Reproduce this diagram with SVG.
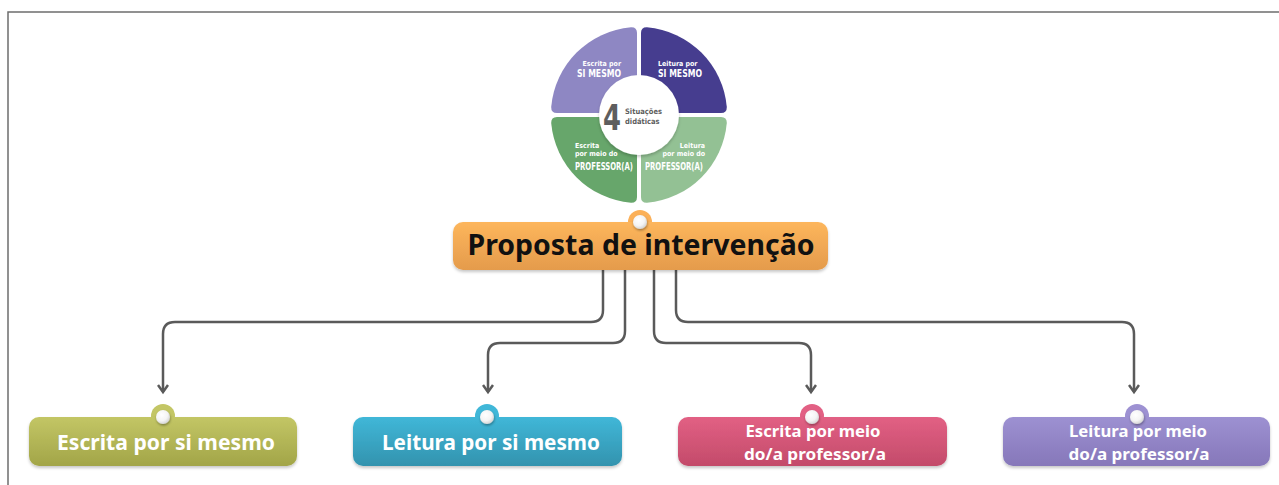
<svg xmlns="http://www.w3.org/2000/svg" width="1279" height="485" viewBox="0 0 1279 485">
<style>
.frame{fill:none;stroke:#6e6e6e;stroke-width:1.5}
.conn{fill:none;stroke:#5a5a5a;stroke-width:2.5;stroke-linejoin:round}
.lbl{font-family:"Noto Sans","Open Sans",sans-serif;font-weight:700;fill:#ffffff;text-anchor:middle}
.main{font-family:"Noto Sans","Open Sans",sans-serif;font-weight:700;fill:#111111;text-anchor:middle;font-size:28px}
.pw{font-family:"DejaVu Sans Condensed","DejaVu Sans",sans-serif;font-weight:700;fill:#ffffff}
.pg{font-family:"DejaVu Sans Condensed","DejaVu Sans",sans-serif;font-weight:700;fill:#5e5e5e}
.ball{fill:url(#ballG)}
</style>
<defs>
<filter id="sh" x="-10%" y="-20%" width="120%" height="150%">
<feDropShadow dx="0" dy="2" stdDeviation="1.5" flood-color="#000" flood-opacity="0.22"/>
</filter>
<filter id="bs" x="-50%" y="-50%" width="200%" height="200%">
<feDropShadow dx="0.5" dy="1.5" stdDeviation="1" flood-color="#000" flood-opacity="0.35"/>
</filter>
<radialGradient id="ballG" cx="0.4" cy="0.35" r="0.7">
<stop offset="0" stop-color="#ffffff"/>
<stop offset="0.6" stop-color="#f4f4f4"/>
<stop offset="1" stop-color="#cfcfcf"/>
</radialGradient>
<linearGradient id="gOr" x1="0" y1="0" x2="0" y2="1"><stop offset="0" stop-color="#fdb65c"/><stop offset="1" stop-color="#e49b4c"/></linearGradient>
<linearGradient id="gOl" x1="0" y1="0" x2="0" y2="1"><stop offset="0" stop-color="#c3c665"/><stop offset="1" stop-color="#a2a548"/></linearGradient>
<linearGradient id="gTe" x1="0" y1="0" x2="0" y2="1"><stop offset="0" stop-color="#40b7d8"/><stop offset="1" stop-color="#3393ae"/></linearGradient>
<linearGradient id="gPk" x1="0" y1="0" x2="0" y2="1"><stop offset="0" stop-color="#e26084"/><stop offset="1" stop-color="#c34b6a"/></linearGradient>
<linearGradient id="gPu" x1="0" y1="0" x2="0" y2="1"><stop offset="0" stop-color="#9d91d2"/><stop offset="1" stop-color="#8677b9"/></linearGradient>
<marker id="arr" markerWidth="12" markerHeight="12" refX="9" refY="6" orient="auto" markerUnits="userSpaceOnUse" viewBox="0 0 12 12">
<path d="M2,1 L9,6 L2,11" fill="none" stroke="#5a5a5a" stroke-width="2.5" stroke-linejoin="miter"/>
</marker>
<path id="quad" d="M -2,-2 L -82,-2 Q -88,-2 -87.8,-8 A 88 88 0 0 1 -8,-87.8 Q -2,-88 -2,-82 Z"/>
</defs>
<rect width="1279" height="485" fill="#ffffff"/>
<path class="frame" d="M8,485 L8,12 L1279,12"/>

<g id="pie">
<use href="#quad" transform="translate(639,115)" fill="#8e87c3"/>
<use href="#quad" transform="translate(639,115) rotate(90)" fill="#463d8f"/>
<use href="#quad" transform="translate(639,115) rotate(180)" fill="#93c194"/>
<use href="#quad" transform="translate(639,115) rotate(270)" fill="#67a66b"/>
<circle cx="639" cy="115" r="40" fill="#ffffff" filter="url(#sh)"/>
<text class="pw" x="621" y="65.5" font-size="7" text-anchor="end">Escrita por</text>
<text class="pw" x="621" y="77" font-size="10.5" text-anchor="end" textLength="44" lengthAdjust="spacingAndGlyphs">SI MESMO</text>
<text class="pw" x="658" y="65.5" font-size="7">Leitura por</text>
<text class="pw" x="658" y="77" font-size="10.5" textLength="44" lengthAdjust="spacingAndGlyphs">SI MESMO</text>
<text class="pg" x="603" y="130" font-size="36" textLength="18" lengthAdjust="spacingAndGlyphs">4</text>
<text class="pg" x="625" y="113.5" font-size="7.5">Situações</text>
<text class="pg" x="625" y="124" font-size="7.5">didáticas</text>
<text class="pw" x="575" y="148" font-size="7">Escrita</text>
<text class="pw" x="575" y="156" font-size="7">por meio do</text>
<text class="pw" x="575" y="169.5" font-size="10" textLength="58" lengthAdjust="spacingAndGlyphs">PROFESSOR(A)</text>
<text class="pw" x="705" y="148" font-size="7" text-anchor="end">Leitura</text>
<text class="pw" x="705" y="156" font-size="7" text-anchor="end">por meio do</text>
<text class="pw" x="703" y="169.5" font-size="10" text-anchor="end" textLength="58" lengthAdjust="spacingAndGlyphs">PROFESSOR(A)</text>
</g>

<g id="connectors">
<path class="conn" marker-end="url(#arr)" d="M603,270 L603,310 Q603,322 591,322 L175,322 Q163,322 163,334 L163,392"/>
<path class="conn" marker-end="url(#arr)" d="M625,270 L625,331 Q625,343 613,343 L500,343 Q488,343 488,355 L488,392"/>
<path class="conn" marker-end="url(#arr)" d="M654,270 L654,331 Q654,343 666,343 L799,343 Q811,343 811,355 L811,392"/>
<path class="conn" marker-end="url(#arr)" d="M676,270 L676,310 Q676,322 688,322 L1122,322 Q1134,322 1134,334 L1134,392"/>
</g>

<g id="n-proposta">
<circle cx="640" cy="222" r="12" fill="#fbb058"/>
<rect x="453" y="222" width="375" height="48" rx="10" fill="url(#gOr)" filter="url(#sh)"/>
<circle class="ball" cx="640" cy="222" r="7" filter="url(#bs)"/>
<text class="main" x="641" y="255" textLength="347" lengthAdjust="spacingAndGlyphs">Proposta de intervenção</text>
</g>

<g id="n-escrita-si">
<circle cx="163" cy="416" r="12" fill="#c3c665"/>
<rect x="29" y="417" width="268" height="49" rx="10" fill="url(#gOl)" filter="url(#sh)"/>
<circle class="ball" cx="163" cy="417" r="7" filter="url(#bs)"/>
<text class="lbl" x="166" y="450" font-size="21" textLength="218" lengthAdjust="spacingAndGlyphs">Escrita por si mesmo</text>
</g>

<g id="n-leitura-si">
<circle cx="487" cy="416" r="12" fill="#40b7d8"/>
<rect x="353" y="417" width="269" height="49" rx="10" fill="url(#gTe)" filter="url(#sh)"/>
<circle class="ball" cx="487" cy="417" r="7" filter="url(#bs)"/>
<text class="lbl" x="491" y="450" font-size="21" textLength="218" lengthAdjust="spacingAndGlyphs">Leitura por si mesmo</text>
</g>

<g id="n-escrita-prof">
<circle cx="812" cy="416" r="12" fill="#e26084"/>
<rect x="678" y="417" width="269" height="49" rx="10" fill="url(#gPk)" filter="url(#sh)"/>
<circle class="ball" cx="812" cy="417" r="7" filter="url(#bs)"/>
<text class="lbl" x="813" y="437" font-size="16.5" textLength="135" lengthAdjust="spacingAndGlyphs">Escrita por meio</text>
<text class="lbl" x="815" y="460" font-size="16.5" textLength="142" lengthAdjust="spacingAndGlyphs">do/a professor/a</text>
</g>

<g id="n-leitura-prof">
<circle cx="1137" cy="416" r="12" fill="#9d91d2"/>
<rect x="1003" y="417" width="267" height="49" rx="10" fill="url(#gPu)" filter="url(#sh)"/>
<circle class="ball" cx="1137" cy="417" r="7" filter="url(#bs)"/>
<text class="lbl" x="1138" y="437" font-size="16.5" textLength="138" lengthAdjust="spacingAndGlyphs">Leitura por meio</text>
<text class="lbl" x="1139" y="460" font-size="16.5" textLength="141" lengthAdjust="spacingAndGlyphs">do/a professor/a</text>
</g>
</svg>
